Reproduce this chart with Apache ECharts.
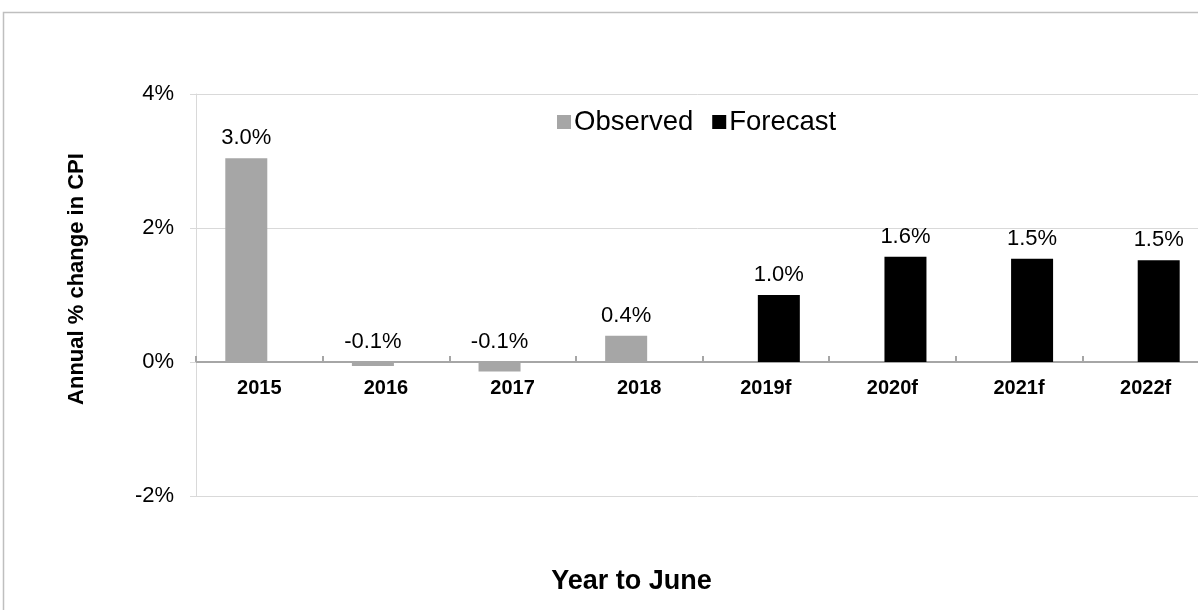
<!DOCTYPE html>
<html>
<head>
<meta charset="utf-8">
<script src="https://cdn.jsdelivr.net/npm/echarts@6/dist/echarts.min.js"></script>
<style>
  html, body { margin: 0; padding: 0; background: #ffffff; overflow: hidden; }
  #chart { width: 1198px; height: 610px; }
</style>
</head>
<body>
<div id="chart"></div>
<script>
// Annual % change in CPI, year to June
const categories = ['2015', '2016', '2017', '2018', '2019f', '2020f', '2021f', '2022f'];
const observed = [3.04, -0.06, -0.14, 0.39, null, null, null, null];
const forecast = [null, null, null, null, 1.0, 1.57, 1.54, 1.52];
const yTicks = [-2, 0, 2, 4];

const FONT = 'Liberation Sans, Arial, sans-serif';

// Plot box (pixels)
const GRID = { left: 196, right: -11, top: 94, bottom: 114 };
const CHART_H = 610;
const plotH = CHART_H - GRID.top - GRID.bottom;
const yMin = yTicks[0];
const yMax = yTicks[yTicks.length - 1];
// lift the category axis (line, ticks, labels) up to the zero line
const zeroLift = plotH * (0 - yMin) / (yMax - yMin);

const chart = echarts.init(document.getElementById('chart'), null, { renderer: 'canvas' });

const barLabel = {
  show: true,
  position: 'top',
  distance: 9,
  color: '#000000',
  fontFamily: FONT,
  fontSize: 22,
  formatter: p => p.value.toFixed(1) + '%'
};

chart.setOption({
  animation: false,
  backgroundColor: '#ffffff',
  graphic: [{
    type: 'rect',
    shape: { x: 3.5, y: 12.5, width: 1400, height: 800 },
    style: { fill: 'none', stroke: '#bfbfbf', lineWidth: 1.5 },
    silent: true,
    z: -1
  }],
  legend: {
    left: 552,
    top: 103,
    itemWidth: 14,
    itemHeight: 14,
    itemGap: 19,
    icon: 'rect',
    textStyle: { fontFamily: FONT, fontSize: 27.5, color: '#000000', padding: [0, 0, 0, -2] },
    data: ['Observed', 'Forecast']
  },
  grid: Object.assign({ containLabel: false, outerBoundsMode: 'none' }, GRID),
  xAxis: {
    type: 'category',
    data: categories,
    offset: -zeroLift,
    name: 'Year to June',
    nameLocation: 'middle',
    nameGap: 206,
    nameTextStyle: { fontFamily: FONT, fontSize: 27, fontWeight: 'bold', color: '#000000', padding: [0, 142, 0, 0] },
    axisLine: { onZero: false, lineStyle: { color: '#a6a6a6', width: 2 } },
    axisTick: { show: true, inside: true, length: 6, lineStyle: { color: '#a6a6a6', width: 2 } },
    axisLabel: { margin: 16, fontFamily: FONT, fontSize: 20, fontWeight: 'bold', color: '#000000' },
    splitLine: { show: false }
  },
  yAxis: {
    type: 'value',
    min: yMin,
    max: yMax,
    interval: 2,
    name: 'Annual % change in CPI',
    nameLocation: 'middle',
    nameRotate: 90,
    nameGap: 108,
    nameTextStyle: { fontFamily: FONT, fontSize: 22, fontWeight: 'bold', color: '#000000', padding: [0, 0, 0, 32] },
    axisLine: { show: true, lineStyle: { color: '#d9d9d9', width: 1 } },
    axisTick: { show: true, length: 6, lineStyle: { color: '#d9d9d9' } },
    axisLabel: { margin: 22, fontFamily: FONT, fontSize: 22, color: '#000000', formatter: v => v + '%' },
    splitLine: { show: true, lineStyle: { color: '#d9d9d9', width: 1 } }
  },
  series: [
    {
      name: 'Observed',
      type: 'bar',
      data: observed,
      barWidth: 42,
      barGap: '-38%',
      itemStyle: { color: '#a6a6a6' },
      label: barLabel
    },
    {
      name: 'Forecast',
      type: 'bar',
      data: forecast,
      barWidth: 42,
      itemStyle: { color: '#000000' },
      label: barLabel
    }
  ]
});
</script>
</body>
</html>
